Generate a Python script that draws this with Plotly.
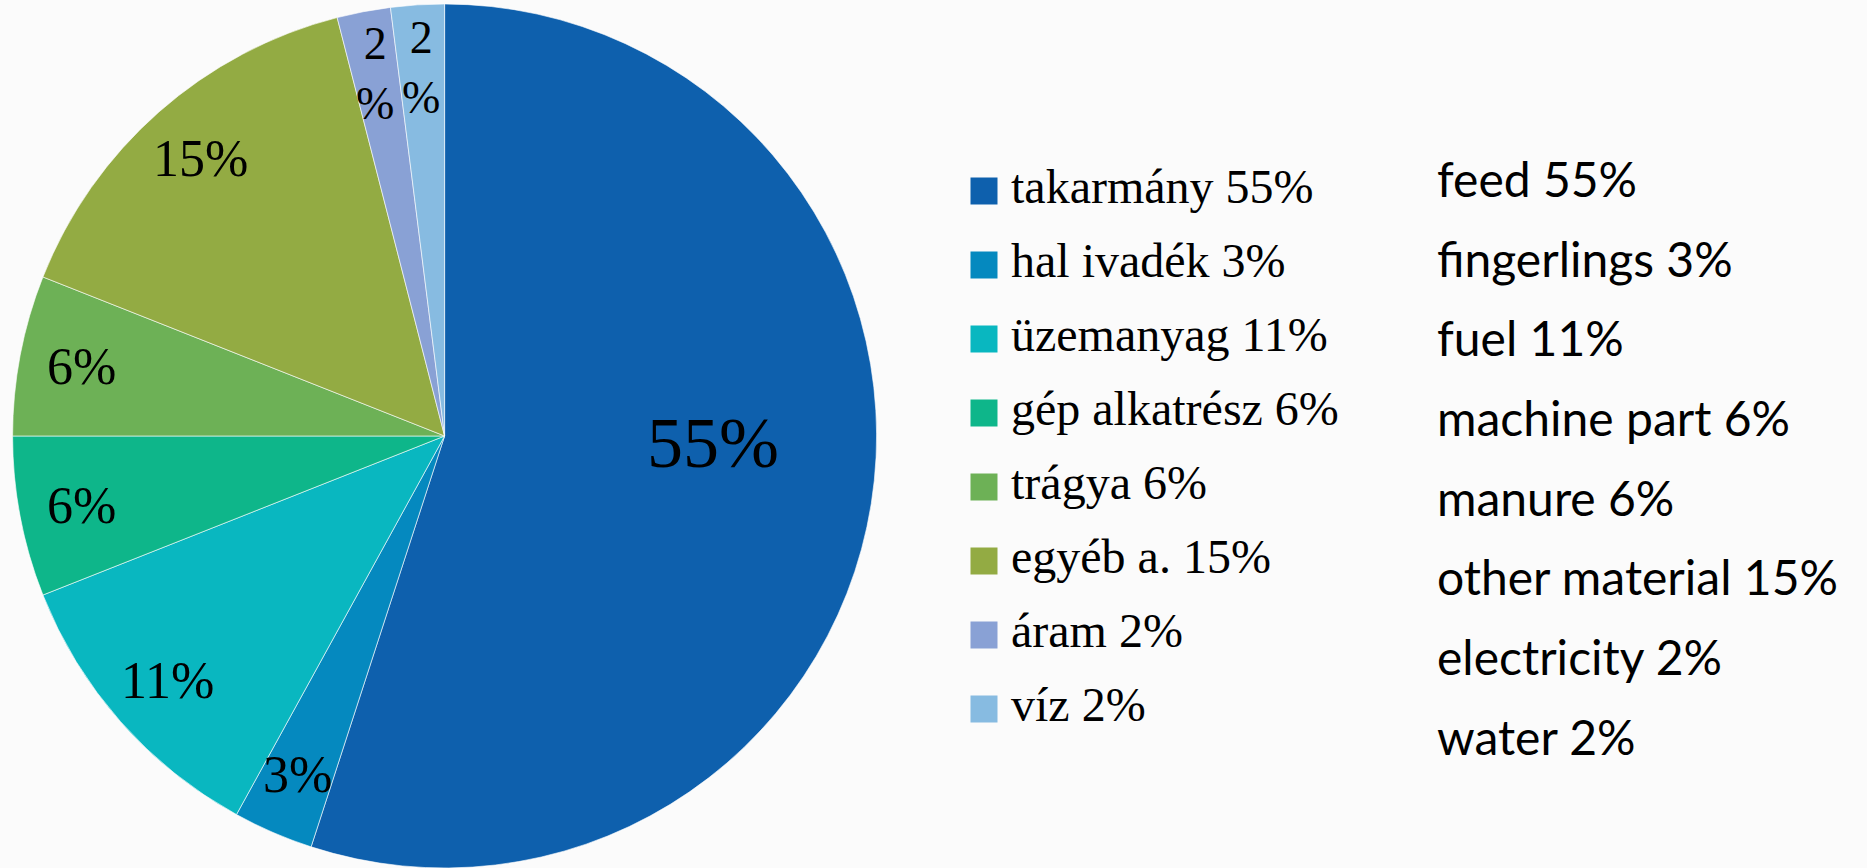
import math
import plotly.graph_objects as go

# ---- data ----
labels_hu = ["takarmány", "hal ivadék", "üzemanyag", "gép alkatrész",
             "trágya", "egyéb a.", "áram", "víz"]
labels_en = ["feed", "fingerlings", "fuel", "machine part",
             "manure", "other material", "electricity", "water"]
values = [55, 3, 11, 6, 6, 15, 2, 2]
colors = ["#0E60AD", "#0589BF", "#09B7C0", "#0EB68A",
          "#6DB156", "#93AB43", "#89A1D5", "#87BBE1"]

W, H = 1867, 868

pie_text = [f"{v}%" if v >= 3 else f"{v}<br>%" for v in values]
pie_sizes = [72 if v > 50 else (46 if v < 3 else 52) for v in values]

hu_text = [f"{l} {v}%" for l, v in zip(labels_hu, values)]
en_text = [f"{l} {v}%" for l, v in zip(labels_en, values)]

# pie geometry (pixels)
px0, px1 = 12.6, 876.6
dom_y = [0, 0.9954]
R = min(px1 - px0, (dom_y[1] - dom_y[0]) * H) / 2
cx = (px0 + px1) / 2
cy = H - (dom_y[0] + dom_y[1]) / 2 * H

fig = go.Figure()

fig.add_trace(go.Pie(
    labels=labels_hu,
    values=values,
    textinfo="none",
    sort=False,
    direction="clockwise",
    rotation=0,
    marker=dict(colors=colors, line=dict(color="rgba(255,255,255,0.6)", width=1)),
    domain=dict(x=[px0 / W, px1 / W], y=dom_y),
    showlegend=False,
    hoverinfo="label+percent",
))

# data labels placed at each slice's mid-angle
total = sum(values)
cum = 0
annotations = []
for v, t, s in zip(values, pie_text, pie_sizes):
    mid = (cum + v / 2) / total * 2 * math.pi
    cum += v
    big = v / total > 0.5
    f = 0.63 if big else 0.855
    x = cx + f * R * math.sin(mid)
    y = cy - f * R * math.cos(mid)
    annotations.append(dict(
        x=x / W, y=1 - y / H, xref="paper", yref="paper",
        text=t, showarrow=False, xanchor="center", yanchor="middle",
        yshift=36 if big else 0,
        font=dict(family="Liberation Serif", size=s, color="black"),
    ))

# legend (Hungarian): squares + serif text
fig.add_trace(go.Scatter(
    x=[984 / W] * len(labels_hu), y=labels_hu,
    mode="markers",
    marker=dict(symbol="square", size=27, color=colors),
    xaxis="x", yaxis="y", showlegend=False, hoverinfo="skip",
))
fig.add_trace(go.Scatter(
    x=[1011 / W] * len(labels_hu), y=labels_hu,
    mode="text", text=hu_text, textposition="middle right",
    textfont=dict(family="Liberation Serif", size=48, color="black"),
    xaxis="x", yaxis="y", showlegend=False, hoverinfo="skip",
))
# English column
fig.add_trace(go.Scatter(
    x=[1437 / W] * len(labels_en), y=labels_en,
    mode="text", text=en_text, textposition="middle right",
    textfont=dict(family="Lato", size=48, color="black"),
    xaxis="x", yaxis="y2", showlegend=False, hoverinfo="skip",
))

leg_top, leg_step = 154, 74
en_top, en_step = 145, 79.7

fig.update_layout(
    width=W, height=H,
    margin=dict(l=0, r=0, t=0, b=0),
    paper_bgcolor="#fbfbfb",
    plot_bgcolor="rgba(0,0,0,0)",
    annotations=annotations,
    xaxis=dict(domain=[0, 1], range=[0, 1], visible=False, fixedrange=True),
    yaxis=dict(domain=[1 - (leg_top + 8 * leg_step) / H, 1 - leg_top / H],
               type="category", categoryorder="array", categoryarray=labels_hu,
               range=[7.5, -0.5], visible=False, fixedrange=True),
    yaxis2=dict(domain=[1 - (en_top + 8 * en_step) / H, 1 - en_top / H],
                type="category", categoryorder="array", categoryarray=labels_en,
                range=[7.5, -0.5], visible=False, fixedrange=True, anchor="x"),
)

fig.write_html("out.html")
